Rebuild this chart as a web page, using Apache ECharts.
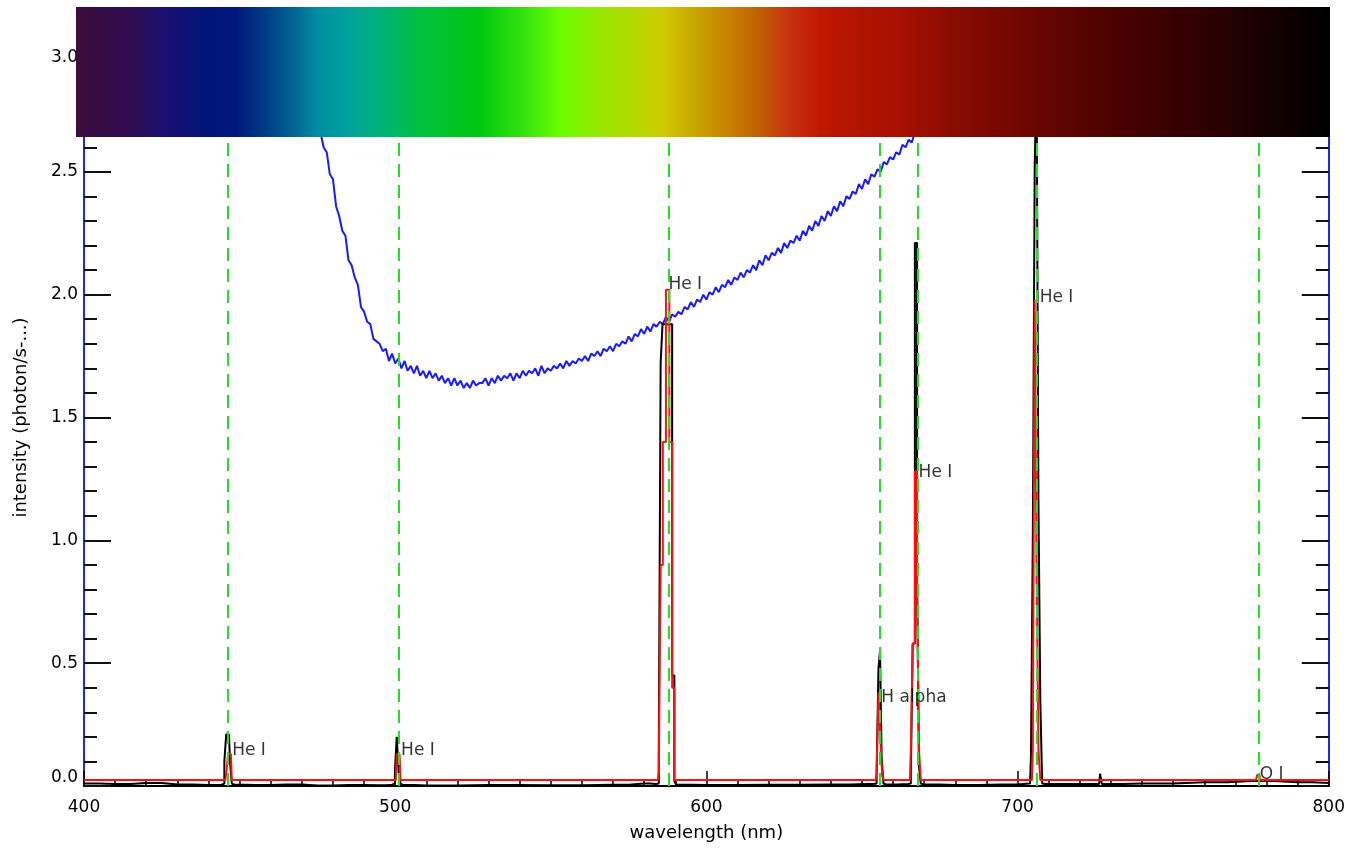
<!DOCTYPE html>
<html>
<head>
<meta charset="utf-8">
<title>Spectrum</title>
<script src="https://cdn.jsdelivr.net/npm/echarts@6/dist/echarts.min.js"></script>
<style>
  html, body { margin: 0; padding: 0; background: #fff; }
  #chart { width: 1348px; height: 858px; }
</style>
</head>
<body>
<div id="chart"></div>
<script>
// axis ticks
const xTicks = [400, 500, 600, 700, 800]
const yTicks = [0, 0.5, 1.0, 1.5, 2.0, 2.5, 3.0]

// emission line wavelengths (nm), green dashed markers
const lineWaves = [446.2, 501.1, 587.8, 655.7, 667.8, 706.3, 777.6]

// line labels
const labelWaves = [447.6, 501.9, 587.8, 656.2, 668.2, 707.1, 777.8]
const labelValues = [0.143, 0.143, 2.04, 0.358, 1.275, 1.99, 0.045]
const labelTexts = ['He I', 'He I', 'He I', 'H alpha', 'He I', 'He I', 'O I']

// measured spectrum (black)
const measured = [
  [400, 0.010], [410, 0.008], [420, 0.012], [430, 0.006], [440, 0.004], [444.2, 0.005],
  [444.8, 0.010], [445.4, 0.10], [446.0, 0.21], [446.6, 0.21], [447.2, 0.10], [447.8, 0.010], [448.4, 0.005],
  [455, 0.004], [465, 0.006], [475, 0.002], [485, 0.004], [495, 0.003], [499.0, 0.005],
  [499.6, 0.010], [500.2, 0.06], [500.8, 0.20], [501.4, 0.06], [502.0, 0.010], [502.6, 0.004],
  [510, 0.002], [530, 0.004], [550, 0.003], [570, 0.005], [580, 0.010], [583.8, 0.008],
  [584.4, 0.010], [585.0, 0.15], [585.6, 1.72], [586.2, 1.88], [587.0, 1.88], [587.8, 1.88], [588.6, 1.88], [589.4, 0.45], [590.0, 0.02], [590.6, 0.005],
  [600, 0.004], [620, 0.005], [640, 0.006], [652, 0.008], [653.8, 0.008],
  [654.4, 0.010], [655.0, 0.05], [655.6, 0.48], [656.0, 0.55], [656.6, 0.12], [657.2, 0.010], [657.8, 0.006],
  [664.8, 0.008], [665.4, 0.010], [666.0, 0.05], [666.6, 0.58], [667.4, 2.21], [668.0, 0.83], [668.6, 0.08], [669.2, 0.010], [669.8, 0.006],
  [680, 0.004], [695, 0.006], [704.0, 0.010],
  [704.6, 0.12], [705.2, 1.02], [705.8, 2.52], [706.4, 2.90], [707.0, 1.16], [707.6, 0.35], [708.2, 0.010], [708.8, 0.008],
  [720, 0.008], [726.2, 0.008], [726.8, 0.05], [727.4, 0.008],
  [740, 0.010], [760, 0.015], [775, 0.020], [790, 0.015], [800, 0.012]
]

// model fit (red)
const model = [
  [400, 0.024], [445.4, 0.024], [446.0, 0.05], [446.6, 0.13], [447.2, 0.13], [447.8, 0.024],
  [500.2, 0.024], [500.8, 0.13], [501.4, 0.13], [502.0, 0.024],
  [584.4, 0.024], [585.0, 0.06], [585.6, 0.9], [586.4, 1.4], [587.6, 2.02], [588.6, 1.4], [589.4, 0.4], [590.0, 0.024],
  [654.4, 0.024], [655.0, 0.06], [655.6, 0.38], [656.2, 0.20], [656.8, 0.04], [657.4, 0.024],
  [665.4, 0.024], [666.0, 0.15], [666.6, 0.58], [667.4, 1.28], [668.0, 0.83], [668.6, 0.15], [669.2, 0.024],
  [704.6, 0.024], [705.2, 0.15], [705.8, 1.98], [706.4, 0.9], [707.0, 0.15], [707.6, 0.024],
  [776.6, 0.024], [777.4, 0.045], [778.2, 0.024], [800, 0.024]
]

// instrument response (blue)
const response = [
  [474, 2.79], [476, 2.66], [477, 2.60], [478, 2.58], [479, 2.49], [480, 2.47], [481, 2.36], [482, 2.32],
  [483, 2.26], [484, 2.24], [485, 2.14], [486, 2.12], [487, 2.07], [488, 2.04], [489, 1.95], [490, 1.93],
  [491, 1.89], [492, 1.88], [493, 1.82], [494, 1.81], [495, 1.80], [496, 1.77], [497, 1.78], [498, 1.73],
  [499, 1.76], [500, 1.72], [501, 1.74], [502, 1.70], [503, 1.73], [504, 1.69], [505, 1.71], [506, 1.68],
  [507, 1.71], [508, 1.67], [509, 1.69], [510, 1.66], [511, 1.69], [512, 1.66], [513, 1.68], [514, 1.65],
  [515, 1.67], [516, 1.64], [517, 1.66], [518, 1.63], [519, 1.66], [520, 1.63], [521, 1.65], [522, 1.62],
  [523, 1.64], [524, 1.62], [525, 1.65], [526, 1.63], [527, 1.64], [528, 1.64], [529, 1.66], [530, 1.63],
  [531, 1.66], [532, 1.64], [533, 1.67], [534, 1.65], [535, 1.67], [536, 1.66], [537, 1.68], [538, 1.65],
  [539, 1.68], [540, 1.66], [541, 1.69], [542, 1.67], [543, 1.69], [544, 1.68], [545, 1.70], [546, 1.67],
  [547, 1.71], [548, 1.68], [549, 1.70], [550, 1.69], [551, 1.71], [552, 1.70], [553, 1.72], [554, 1.70],
  [555, 1.73], [556, 1.71], [557, 1.73], [558, 1.72], [559, 1.74], [560, 1.73], [561, 1.75], [562, 1.73],
  [563, 1.76], [564, 1.75], [565, 1.77], [566, 1.75], [567, 1.78], [568, 1.77], [569, 1.79], [570, 1.77],
  [571, 1.80], [572, 1.79], [573, 1.81], [574, 1.80], [575, 1.83], [576, 1.81], [577, 1.84], [578, 1.83],
  [579, 1.86], [580, 1.84], [581, 1.87], [582, 1.85], [583, 1.88], [584, 1.87], [585, 1.89], [586, 1.88],
  [587, 1.91], [588, 1.89], [589, 1.92], [590, 1.91], [591, 1.93], [592, 1.92], [593, 1.95], [594, 1.94],
  [595, 1.97], [596, 1.95], [597, 1.98], [598, 1.97], [599, 2.00], [600, 1.98], [601, 2.01], [602, 2.00],
  [603, 2.03], [604, 2.01], [605, 2.04], [606, 2.03], [607, 2.06], [608, 2.04], [609, 2.07], [610, 2.06],
  [611, 2.09], [612, 2.07], [613, 2.10], [614, 2.09], [615, 2.12], [616, 2.10], [617, 2.14], [618, 2.12],
  [619, 2.16], [620, 2.14], [621, 2.17], [622, 2.16], [623, 2.19], [624, 2.17], [625, 2.21], [626, 2.19],
  [627, 2.22], [628, 2.21], [629, 2.24], [630, 2.22], [631, 2.26], [632, 2.24], [633, 2.28], [634, 2.26],
  [635, 2.30], [636, 2.28], [637, 2.32], [638, 2.30], [639, 2.34], [640, 2.32], [641, 2.36], [642, 2.34],
  [643, 2.38], [644, 2.36], [645, 2.40], [646, 2.39], [647, 2.42], [648, 2.41], [649, 2.45], [650, 2.43],
  [651, 2.47], [652, 2.45], [653, 2.49], [654, 2.48], [655, 2.51], [656, 2.50], [657, 2.54], [658, 2.53],
  [659, 2.56], [660, 2.55], [661, 2.58], [662, 2.57], [663, 2.61], [664, 2.60], [665, 2.63], [666, 2.62],
  [667, 2.66], [668, 2.65], [670, 2.70], [672, 2.73]
]

// colour strip across the top (spectrum picture), pixel x -> colour
const stripColors = [
  [76, '#3c0c3c'], [130, '#300c50'], [165, '#1a1070'], [205, '#001478'], [235, '#00187c'],
  [255, '#003080'], [285, '#005890'], [320, '#0090a0'], [345, '#00a0a0'], [375, '#00b080'],
  [420, '#00c040'], [480, '#00c810'], [520, '#30e010'], [560, '#68ff00'], [600, '#98e800'],
  [640, '#b8d800'], [665, '#d0c800'], [700, '#c8a000'], [730, '#c88000'], [760, '#c06000'],
  [790, '#c83010'], [820, '#c01800'], [860, '#b01400'], [900, '#a81000'], [950, '#8a0c00'],
  [1000, '#780800'], [1060, '#600400'], [1120, '#480200'], [1200, '#300000'], [1260, '#1a0000'],
  [1330, '#000000']
]

const FONT = 'DejaVu Sans'
const chart = echarts.init(document.getElementById('chart'))

const stripLeft = 76, stripWidth = 1254

chart.setOption({
  animation: false,
  backgroundColor: '#fff',
  grid: { left: 84, right: 18, top: 49, bottom: 72, containLabel: false },
  xAxis: {
    type: 'value',
    min: xTicks[0],
    max: xTicks[xTicks.length - 1],
    interval: 100,
    name: 'wavelength (nm)',
    nameLocation: 'middle',
    nameGap: 38,
    nameTextStyle: { color: '#000', fontSize: 18, fontFamily: FONT },
    axisLine: { show: true, onZero: false, lineStyle: { color: '#000', width: 2 } },
    axisTick: { show: true, inside: true, length: 15, lineStyle: { color: '#000', width: 1.5 } },
    minorTick: { show: true, splitNumber: 10, length: 7, lineStyle: { color: '#000', width: 1.5 } },
    splitLine: { show: false },
    axisLabel: { color: '#000', fontSize: 17, fontFamily: FONT, margin: 13 }
  },
  yAxis: [
    {
      type: 'value',
      min: yTicks[0],
      max: yTicks[yTicks.length - 1],
      interval: 0.5,
      name: 'intensity (photon/s-...)',
      nameLocation: 'middle',
      nameGap: 54,
      nameTextStyle: { color: '#000', fontSize: 18, fontFamily: FONT },
      axisLine: { show: true, onZero: false, lineStyle: { color: '#2222ff', width: 2 } },
      axisTick: { show: true, inside: true, length: 27, lineStyle: { color: '#111', width: 2 } },
      minorTick: { show: true, splitNumber: 5, length: 13, lineStyle: { color: '#111', width: 2 } },
      splitLine: { show: false },
      axisLabel: {
        color: '#000', fontSize: 17, fontFamily: FONT, margin: 6,
        formatter: v => v.toFixed(1),
        verticalAlignMinLabel: 'bottom',
        verticalAlignMaxLabel: 'top'
      }
    },
    {
      type: 'value',
      position: 'right',
      min: yTicks[0],
      max: yTicks[yTicks.length - 1],
      interval: 0.5,
      axisLine: { show: true, onZero: false, lineStyle: { color: '#2222ff', width: 2 } },
      axisTick: { show: true, inside: true, length: 27, lineStyle: { color: '#111', width: 2 } },
      minorTick: { show: true, splitNumber: 5, length: 13, lineStyle: { color: '#111', width: 2 } },
      splitLine: { show: false },
      axisLabel: { show: false }
    }
  ],
  series: [
    {
      name: 'response',
      type: 'line',
      data: response,
      showSymbol: false,
      lineStyle: { color: '#1a1aff', width: 2 },
      z: 2
    },
    {
      name: 'measured',
      type: 'line',
      step: 'middle',
      data: measured,
      showSymbol: false,
      lineStyle: { color: '#000', width: 2 },
      z: 3
    },
    {
      name: 'model',
      type: 'line',
      step: 'middle',
      data: model,
      showSymbol: false,
      lineStyle: { color: '#ff1010', width: 2 },
      z: 4
    },
    {
      name: 'lines',
      type: 'line',
      data: [],
      z: 5,
      markLine: {
        silent: true,
        symbol: 'none',
        label: { show: false },
        lineStyle: { color: '#22e022', width: 2, type: [13, 8] },
        data: lineWaves.map(w => ({ xAxis: w }))
      }
    },
    {
      name: 'labels',
      type: 'scatter',
      symbolSize: 0,
      z: 6,
      data: labelWaves.map((w, i) => ({ value: [w, labelValues[i]], name: labelTexts[i] })),
      label: {
        show: true,
        position: 'right',
        distance: 0,
        formatter: p => p.name,
        color: '#000',
        fontSize: 17,
        fontFamily: FONT
      }
    }
  ],
  graphic: [
    {
      type: 'rect',
      z: 100,
      shape: { x: stripLeft, y: 7, width: stripWidth, height: 130 },
      style: {
        fill: new echarts.graphic.LinearGradient(0, 0, 1, 0,
          stripColors.map(([x, c]) => ({ offset: (x - stripLeft) / stripWidth, color: c })))
      }
    }
  ]
})
</script>
</body>
</html>
